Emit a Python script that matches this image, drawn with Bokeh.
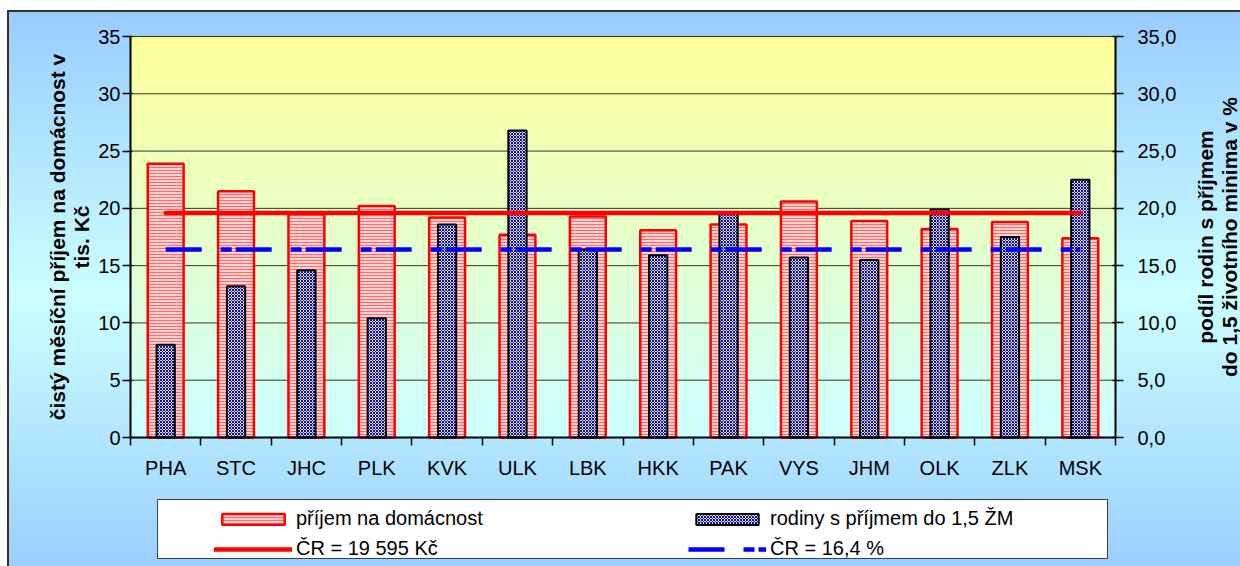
import math
import numpy as np
from bokeh.plotting import figure
from bokeh.models import (Range1d, LinearAxis, FixedTicker, Legend, LegendItem,
                          ColumnDataSource, Label)
from bokeh.embed import file_html
from bokeh.resources import INLINE

# ---------------- data ----------------
categories = ["PHA", "STC", "JHC", "PLK", "KVK", "ULK", "LBK",
              "HKK", "PAK", "VYS", "JHM", "OLK", "ZLK", "MSK"]
income = [23.9, 21.5, 19.5, 20.2, 19.2, 17.7, 19.3,
          18.1, 18.6, 20.6, 18.9, 18.2, 18.8, 17.4]          # tis. Kč
share = [8.1, 13.2, 14.6, 10.4, 18.6, 26.8, 16.4,
         15.9, 19.6, 15.7, 15.5, 19.9, 17.5, 22.5]            # %
cr_income = 19.595
cr_share = 16.4
y_ticks = [0, 5, 10, 15, 20, 25, 30, 35]
left_tick_labels = ["0", "5", "10", "15", "20", "25", "30", "35"]
right_tick_labels = ["0,0", "5,0", "10,0", "15,0", "20,0", "25,0", "30,0", "35,0"]
legend_labels = ["příjem na domácnost", "rodiny s příjmem do 1,5 ŽM",
                 "ČR = 19 595 Kč", "ČR = 16,4 %"]
left_title = "čistý měsíční příjem na domácnost v\ntis. Kč"
right_title = "podíl rodin s příjmem\ndo 1,5 životního minima v %"

# ---------------- layout (canvas pixels) ----------------
FONT = "Liberation Sans"
W, H = 1240, 566
PL, PT, PW, PH = 130, 36, 985, 401      # plot area (value axes 0..35, categories 0..14)
YMAX = 35

n = len(categories)
centers = [i + 0.5 for i in range(n)]
bounds = list(range(n + 1))

sx = PW / n          # px per category
sy = PH / YMAX       # px per value unit


def cx(px):
    return (px - PL) / sx


def cy(py):
    return (PT + PH - py) / sy


x_rng = Range1d(cx(0), cx(W))
y_rng = Range1d(cy(H), cy(0))

src = ColumnDataSource(dict(x=centers, income=income, share=share, cat=categories))

p = figure(width=W, height=H, x_range=x_rng, y_range=y_rng, title=None,
           output_backend="svg", toolbar_location=None,
           min_border_left=0, min_border_top=0, min_border_right=0, min_border_bottom=0)
p.extra_y_ranges = {"right": Range1d(cy(H), cy(0))}
p.border_fill_alpha = 0
p.background_fill_alpha = 0
p.outline_line_color = None
p.xgrid.visible = False
p.ygrid.visible = False

# chart-area background, frame border and legend box drawn as CSS layers
bx, by, bw, bh = 157, 499, 951, 60
p.styles = {
    "background": ", ".join([
        f"linear-gradient(#ffffff, #ffffff) {bx + 1}px {by + 1}px / {bw - 2}px {bh - 2}px no-repeat",
        f"linear-gradient(#404040, #404040) {bx}px {by}px / {bw}px {bh}px no-repeat",
        "linear-gradient(#333333, #333333) 7px 10px / 100% 2px no-repeat",
        "linear-gradient(#333333, #333333) 7px 10px / 2px 100% no-repeat",
        "linear-gradient(to bottom, #99CCFF 0%, #CCFFFF 50%, #99CCFF 100%) 8px 11px / 100% 570px no-repeat",
        "#ffffff",
    ])
}

# plot-area gradient (yellow top -> light cyan bottom)
NG = 401
t = np.linspace(0.0, 1.0, NG)
img = np.zeros((NG, 1), dtype=np.uint32)
view = img.view(dtype=np.uint8).reshape((NG, 1, 4))
view[:, 0, 0] = (204 + 51 * t).astype(np.uint8)
view[:, 0, 1] = 255
view[:, 0, 2] = (255 - 102 * t).astype(np.uint8)
view[:, 0, 3] = 255
p.image_rgba(image=[img], x=0, y=0, dw=n, dh=YMAX, level="image")

# horizontal gridlines at the value ticks
p.segment(x0=[0] * len(y_ticks), x1=[n] * len(y_ticks), y0=y_ticks, y1=y_ticks,
          line_color="#333333", line_width=1)

# bars
r1 = p.vbar(x="x", top="income", width=0.51, source=src,
            fill_color="#FFD2D2", line_color="#FF0000", line_width=2.5,
            hatch_pattern="horizontal_line", hatch_color="#FF6A6A",
            hatch_scale=3, hatch_weight=1)
r2 = p.vbar(x="x", top="share", width=0.26, source=src, y_range_name="right",
            fill_color="#D8D8F8", line_color="black", line_width=2,
            hatch_pattern="diagonal_cross", hatch_color="#10108A",
            hatch_scale=3, hatch_weight=1)
r3 = p.line(x=centers, y=[cr_income] * n, line_color="#FF0000", line_width=4.5,
            line_cap="round")
r4 = p.line(x=centers, y=[cr_share] * n, y_range_name="right",
            line_color="#0000FF", line_width=4.5, line_dash="36 19 11 4")

# x axis: ticks at category boundaries, labels at centres
xa = p.xaxis[0]
xa.fixed_location = 0
xa.bounds = (0, n)
xa.ticker = FixedTicker(ticks=centers, minor_ticks=bounds)
xa.major_label_overrides = {c: k for c, k in zip(centers, categories)}
xa.major_tick_line_color = None
xa.major_tick_out = 0
xa.major_tick_in = 0
xa.minor_tick_line_color = "black"
xa.minor_tick_line_width = 1.5
xa.minor_tick_out = 8
xa.minor_tick_in = 0
xa.axis_line_color = "black"
xa.axis_line_width = 2
xa.major_label_text_font = FONT
xa.major_label_text_font_size = "20px"
xa.major_label_text_color = "black"
xa.major_label_standoff = 11

# left axis
ya = p.yaxis[0]
ya.fixed_location = 0
ya.bounds = (0, YMAX)
ya.ticker = FixedTicker(ticks=y_ticks)
ya.major_label_overrides = dict(zip(y_ticks, left_tick_labels))
ya.major_tick_out = 8
ya.major_tick_in = 2
ya.major_tick_line_width = 1.5
ya.major_tick_line_color = "black"
ya.minor_tick_line_color = None
ya.axis_line_color = "black"
ya.axis_line_width = 2
ya.major_label_standoff = 2
ya.major_label_text_font = FONT
ya.major_label_text_font_size = "20px"
ya.major_label_text_color = "black"

# right axis
ra = LinearAxis(y_range_name="right", ticker=FixedTicker(ticks=y_ticks),
                major_label_overrides=dict(zip(y_ticks, right_tick_labels)))
ra.fixed_location = n
ra.bounds = (0, YMAX)
ra.major_tick_out = 8
ra.major_tick_in = 3
ra.major_tick_line_width = 1.5
ra.major_tick_line_color = "black"
ra.minor_tick_line_color = None
ra.axis_line_color = "black"
ra.axis_line_width = 2
ra.major_label_standoff = 14
ra.major_label_text_font = FONT
ra.major_label_text_font_size = "20px"
ra.major_label_text_color = "black"
p.add_layout(ra, "right")

# axis titles (bottom-to-top, centred on the value axis)
for text, px in ((left_title, 69), (right_title, 1217)):
    p.add_layout(Label(x=cx(px), y=YMAX / 2, text=text, angle=math.pi / 2,
                       text_align="center", text_baseline="middle",
                       text_font=FONT, text_font_style="bold", text_font_size="21px",
                       text_color="black", text_line_height=1.05))

# legend (its white box is the CSS layer above)
legend = Legend(items=[LegendItem(label=legend_labels[0], renderers=[r1]),
                       LegendItem(label=legend_labels[2], renderers=[r3]),
                       LegendItem(label=legend_labels[1], renderers=[r2]),
                       LegendItem(label=legend_labels[3], renderers=[r4])],
                location=(214, 6), orientation="vertical", ncols=2,
                glyph_width=78, glyph_height=14, label_width=385, label_height=22,
                label_standoff=4, spacing=7, padding=4, margin=0,
                background_fill_alpha=0, border_line_color=None,
                label_text_font=FONT, label_text_font_size="20px",
                label_text_color="black")
p.add_layout(legend)

open("out.html", "w").write(file_html(p, INLINE))
